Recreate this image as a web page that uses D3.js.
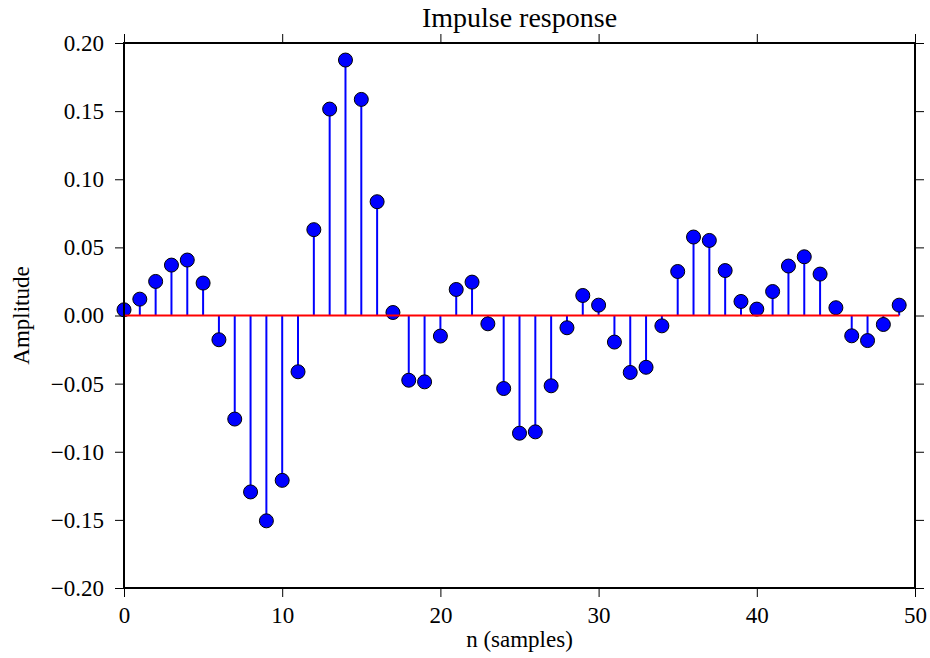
<!DOCTYPE html>
<html>
<head>
<meta charset="utf-8">
<script src="https://cdn.jsdelivr.net/npm/d3@7"></script>
<style>
  body { margin: 0; background: #fff; }
  svg text { font-family: "Liberation Serif", "DejaVu Serif", serif; fill: #000; }
</style>
</head>
<body>
<div id="chart"></div>
<script>
// Impulse response values, n = 0..49
const samples = d3.range(50);
const amplitude = [
  0.0042, 0.0120, 0.0250, 0.0370, 0.0407, 0.0238, -0.0178, -0.0760, -0.1295, -0.1507,
  -0.1210, -0.0413, 0.0630, 0.1515, 0.1875, 0.1586, 0.0835, 0.0022, -0.0475, -0.0487,
  -0.0151, 0.0191, 0.0245, -0.0061, -0.0536, -0.0864, -0.0854, -0.0516, -0.0090, 0.0147,
  0.0076, -0.0195, -0.0418, -0.0380, -0.0076, 0.0323, 0.0576, 0.0551, 0.0330, 0.0103,
  0.0047, 0.0176, 0.0363, 0.0431, 0.0304, 0.0057, -0.0149, -0.0184, -0.0066, 0.0076
];
const xTicks = [0, 10, 20, 30, 40, 50];
const yTicks = [-0.20, -0.15, -0.10, -0.05, 0.00, 0.05, 0.10, 0.15, 0.20];

const width = 930, height = 658;
const margin = { top: 43, right: 15, bottom: 70, left: 124 };
const innerW = width - margin.left - margin.right;
const innerH = height - margin.top - margin.bottom;

const svg = d3.select('#chart').append('svg')
    .attr('width', width)
    .attr('height', height);

const g = svg.append('g')
    .attr('transform', `translate(${margin.left},${margin.top})`);

const x = d3.scaleLinear().domain([0, 50]).range([0, innerW]);
const y = d3.scaleLinear().domain([-0.2, 0.2]).range([innerH, 0]);

const fmt = v => d3.format('.2f')(v).replace('-', '\u2212');
const tickLen = 9;

// axes (ticks outward on all four sides, labels only left/bottom)
function styleAxis(sel) {
    sel.select('.domain').remove();
    sel.selectAll('.tick line').attr('stroke', '#000').attr('stroke-width', 1);
    sel.selectAll('.tick text').style('font-size', '23px');
}

g.append('g')
    .attr('transform', `translate(0,${innerH})`)
    .call(d3.axisBottom(x).tickValues(xTicks).tickSize(tickLen).tickPadding(10).tickFormat(d3.format('d')))
    .call(styleAxis);

g.append('g')
    .call(d3.axisTop(x).tickValues(xTicks).tickSize(tickLen).tickFormat(''))
    .call(styleAxis);

g.append('g')
    .call(d3.axisLeft(y).tickValues(yTicks).tickSize(tickLen).tickPadding(11).tickFormat(fmt))
    .call(styleAxis);

g.append('g')
    .attr('transform', `translate(${innerW},0)`)
    .call(d3.axisRight(y).tickValues(yTicks).tickSize(tickLen).tickFormat(''))
    .call(styleAxis);

// stems
g.append('g').selectAll('line')
    .data(samples)
    .join('line')
    .attr('x1', d => x(d))
    .attr('x2', d => x(d))
    .attr('y1', y(0))
    .attr('y2', d => y(amplitude[d]))
    .attr('stroke', '#0000ff')
    .attr('stroke-width', 2);

// markers
g.append('g').selectAll('circle')
    .data(samples)
    .join('circle')
    .attr('cx', d => x(d))
    .attr('cy', d => y(amplitude[d]))
    .attr('r', 7)
    .attr('fill', '#0000ff')
    .attr('stroke', '#000')
    .attr('stroke-width', 1);

// baseline
g.append('line')
    .attr('x1', x(samples[0]))
    .attr('x2', x(samples[samples.length - 1]))
    .attr('y1', y(0))
    .attr('y2', y(0))
    .attr('stroke', '#ff0000')
    .attr('stroke-width', 2);

// frame
g.append('rect')
    .attr('width', innerW)
    .attr('height', innerH)
    .attr('fill', 'none')
    .attr('stroke', '#000')
    .attr('stroke-width', 2);

// titles
svg.append('text')
    .attr('x', margin.left + innerW / 2)
    .attr('y', 27)
    .attr('text-anchor', 'middle')
    .style('font-size', '28px')
    .text('Impulse response');

svg.append('text')
    .attr('x', margin.left + innerW / 2)
    .attr('y', 647)
    .attr('text-anchor', 'middle')
    .style('font-size', '23px')
    .text('n (samples)');

svg.append('text')
    .attr('transform', `translate(29,${margin.top + innerH / 2}) rotate(-90)`)
    .attr('text-anchor', 'middle')
    .style('font-size', '23px')
    .text('Amplitude');
</script>
</body>
</html>
